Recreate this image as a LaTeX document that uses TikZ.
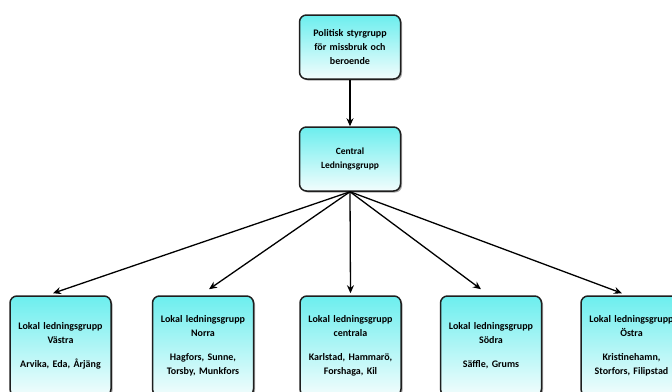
\documentclass[tikz,border=0pt]{standalone}
\usepackage{fontspec}
\setmainfont{Carlito}
\usetikzlibrary{arrows.meta,shadows}
\definecolor{boxtop}{RGB}{108,238,238}
\definecolor{boxbot}{RGB}{242,253,253}
\definecolor{boxline}{RGB}{30,30,30}
\tikzset{
  orgbox/.style={draw=boxline, line width=1.5pt, rounded corners=7pt,
    top color=boxtop, bottom color=boxbot,
    drop shadow={shadow xshift=1.5pt, shadow yshift=-1.5pt, opacity=0.35, fill=black},
    minimum width=101pt, text width=97pt, align=center,
    font=\bfseries\fontsize{10}{14}\selectfont, inner sep=0pt},
  toparrow/.style={line width=1.3pt, draw=black, -{Stealth[length=8pt,width=7pt]}}
}
\begin{document}
\begin{tikzpicture}[x=1pt,y=-1pt]
\clip (0,0) rectangle (672,391);
\fill[white] (0,0) rectangle (672,391);
\node[orgbox, minimum height=64pt] (top) at (350,47) {Politisk styrgrupp\\för missbruk och\\beroende};
\node[orgbox, minimum height=64pt, font=\bfseries\fontsize{9.5}{13.5}\selectfont] (cen) at (350,159) {Central\\Ledningsgrupp};
\node[orgbox, minimum height=100pt] (b1) at (60.5,346) {Lokal ledningsgrupp\\Västra\\[10pt]Arvika, Eda, Årjäng};
\node[orgbox, minimum height=100pt] (b2) at (203,346) {Lokal ledningsgrupp\\Norra\\[10pt]Hagfors, Sunne,\\Torsby, Munkfors};
\node[orgbox, minimum height=100pt] (b3) at (350.5,346) {Lokal ledningsgrupp\\centrala\\[10pt]Karlstad, Hammarö,\\Forshaga, Kil};
\node[orgbox, minimum height=100pt] (b4) at (491,346) {Lokal ledningsgrupp\\Södra\\[10pt]Säffle, Grums};
\node[orgbox, minimum height=100pt] (b5) at (631.5,346) {Lokal ledningsgrupp\\Östra\\[10pt]Kristinehamn,\\Storfors, Filipstad};
\draw[toparrow] (top.south) -- (cen.north);
\draw[toparrow] (cen.south) -- ([xshift=-7.5pt,yshift=2pt]b1.north);
\draw[toparrow] (cen.south) -- ([xshift=6pt,yshift=6pt]b2.north);
\draw[toparrow] (cen.south) -- ([yshift=2pt]b3.north);
\draw[toparrow] (cen.south) -- ([xshift=-10pt,yshift=6pt]b4.north);
\draw[toparrow] (cen.south) -- ([xshift=-9.5pt,yshift=2pt]b5.north);
\end{tikzpicture}
\end{document}
